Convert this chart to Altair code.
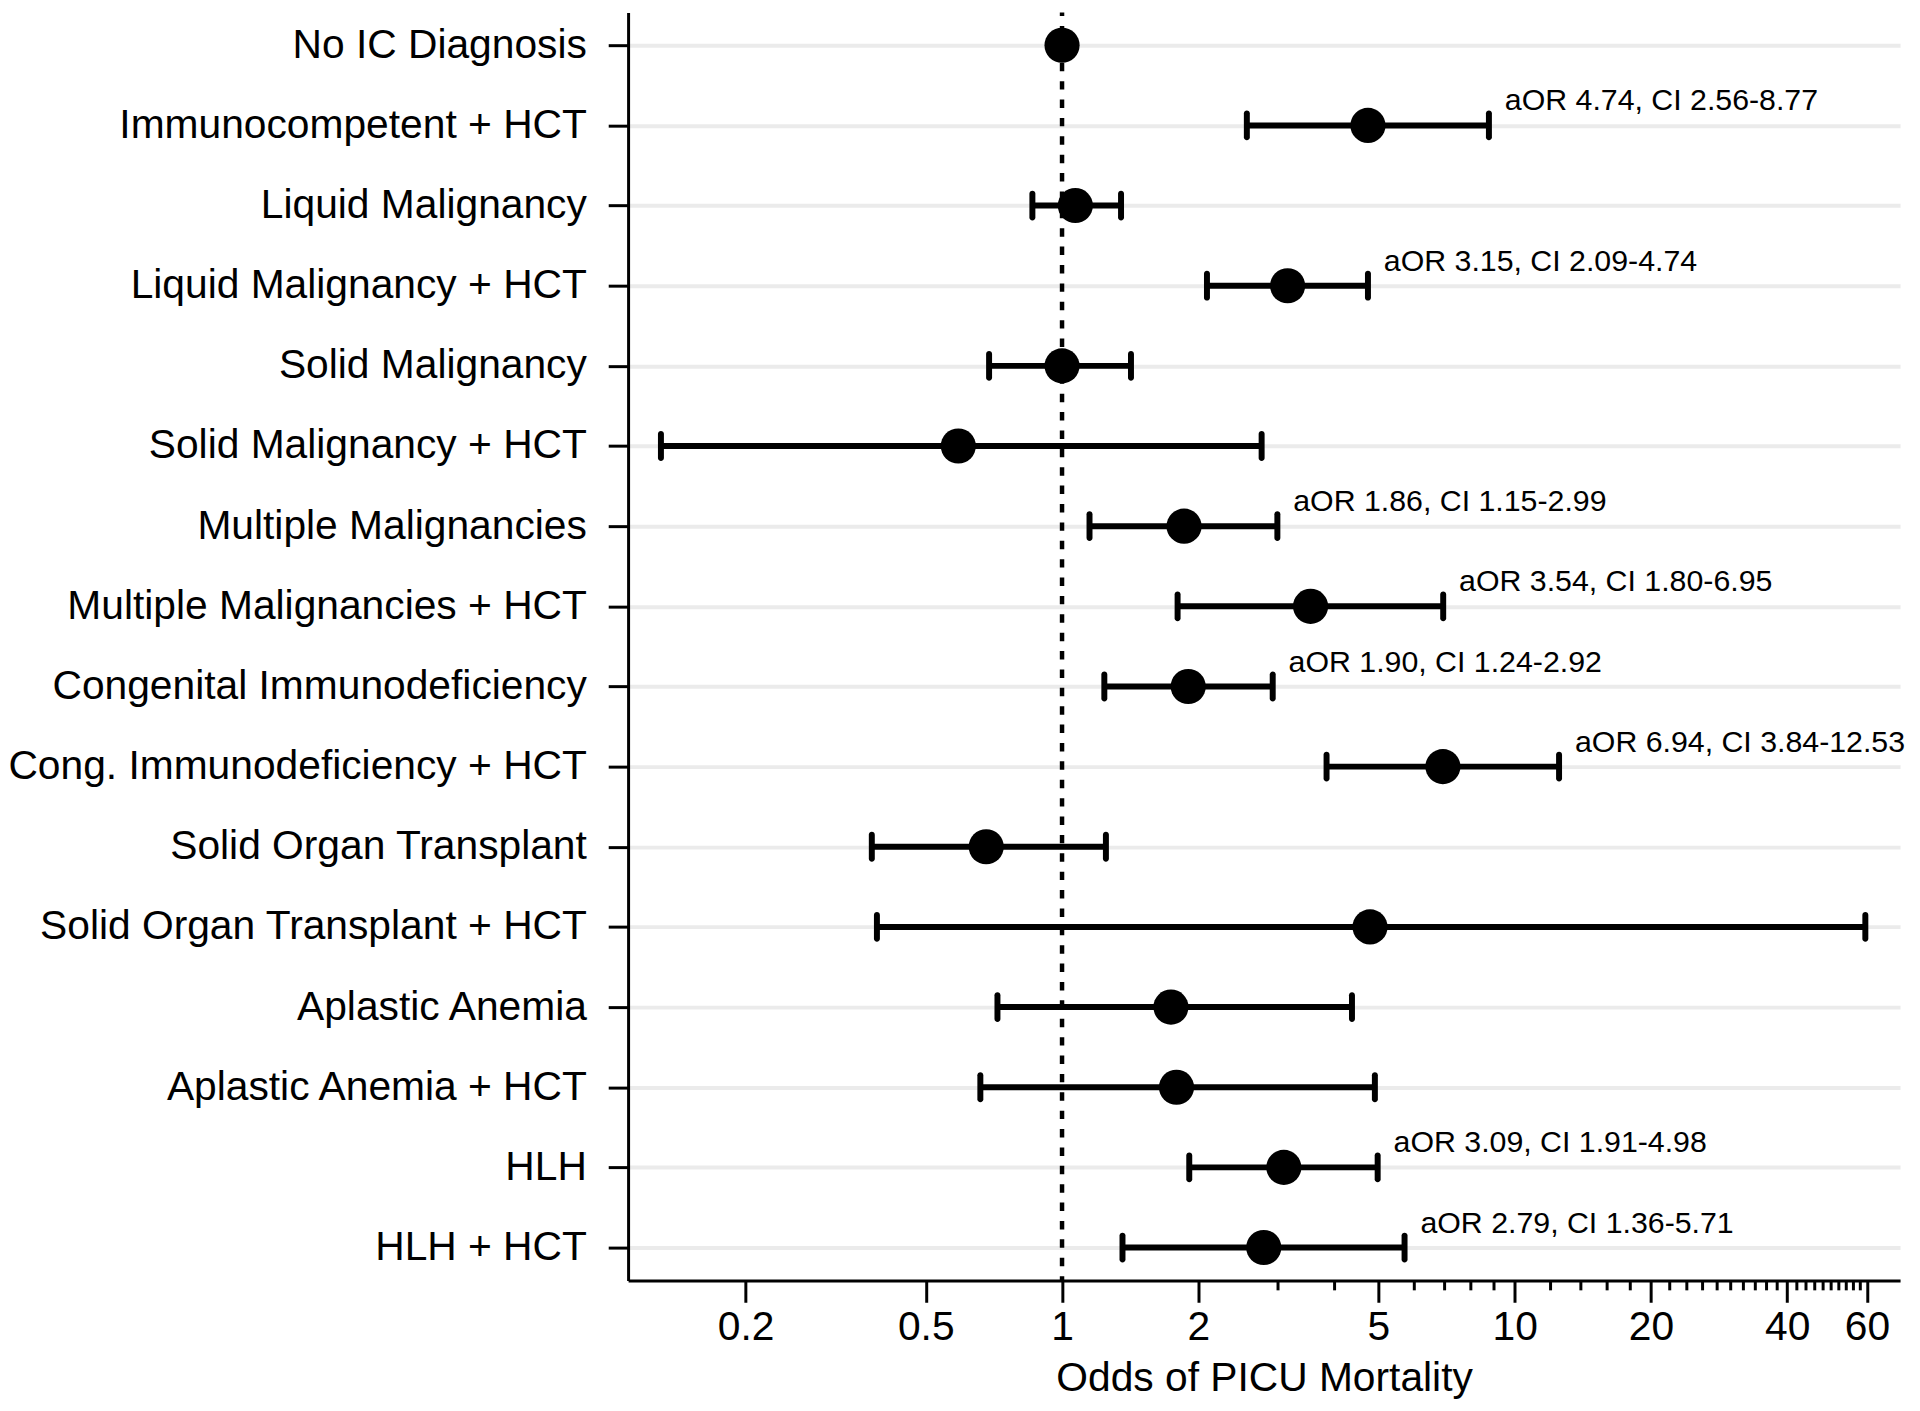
import altair as alt
import pandas as pd

# ---------------- data ----------------
groups = [
    "No IC Diagnosis",
    "Immunocompetent + HCT",
    "Liquid Malignancy",
    "Liquid Malignancy + HCT",
    "Solid Malignancy",
    "Solid Malignancy + HCT",
    "Multiple Malignancies",
    "Multiple Malignancies + HCT",
    "Congenital Immunodeficiency",
    "Cong. Immunodeficiency + HCT",
    "Solid Organ Transplant",
    "Solid Organ Transplant + HCT",
    "Aplastic Anemia",
    "Aplastic Anemia + HCT",
    "HLH",
    "HLH + HCT",
]
aor = [1.00, 4.74, 1.07, 3.15, 1.00, 0.59, 1.86, 3.54, 1.90, 6.94, 0.68, 4.79, 1.74, 1.79, 3.09, 2.79]
ci_lo = [None, 2.56, 0.86, 2.09, 0.69, 0.13, 1.15, 1.80, 1.24, 3.84, 0.38, 0.39, 0.72, 0.66, 1.91, 1.36]
ci_hi = [None, 8.77, 1.35, 4.74, 1.42, 2.76, 2.99, 6.95, 2.92, 12.53, 1.25, 59.5, 4.37, 4.91, 4.98, 5.71]
annotated = [False, True, False, True, False, False, True, True, True, True, False, False, False, False, True, True]

major_ticks = [0.2, 0.5, 1, 2, 5, 10, 20, 40, 60]
minor_ticks = [3, 4, 6, 7, 8, 9, 12, 14, 16, 18,
               22, 24, 26, 28, 30, 32, 34, 36, 38,
               42, 44, 46, 48, 50, 52, 54, 56, 58]
reference_value = [1]
x_domain = [0.11, 71]

# ---------------- tables ----------------
df = pd.DataFrame({"group": groups, "aor": aor, "lo": ci_lo, "hi": ci_hi, "ann": annotated})
df_ci = df.dropna(subset=["lo", "hi"]).copy()
df_txt = df[df["ann"]].copy()
df_txt["label"] = [f"aOR {a:.2f}, CI {l:.2f}-{h:.2f}" for a, l, h in zip(df_txt["aor"], df_txt["lo"], df_txt["hi"])]
df_ref = pd.DataFrame({"ref": reference_value})
df_minor = pd.DataFrame({"m": minor_ticks})

W, H = 1280, 1276
FONT = "Liberation Sans"

x_scale = alt.Scale(type="log", domain=x_domain, nice=False)
x_axis = alt.Axis(
    values=major_ticks, format="~g", title="Odds of PICU Mortality",
    grid=False, tickSize=22, tickWidth=3, tickColor="black",
    domainColor="black", domainWidth=3,
    labelFont=FONT, labelFontSize=41, labelColor="black", labelPadding=5,
    labelOverlap=False, labelFlush=False,
    titleFont=FONT, titleFontSize=41, titleFontWeight="normal", titleColor="black",
    titlePadding=12,
)
y_enc = alt.Y(
    "group:N", sort=groups, title=None,
    scale=alt.Scale(type="point", padding=0.41),
    axis=alt.Axis(
        grid=True, gridColor="#ebebeb", gridWidth=4,
        tickSize=20, tickWidth=3, tickColor="black",
        domainColor="black", domainWidth=3,
        labelFont=FONT, labelFontSize=41, labelColor="black", labelPadding=22,
        labelLimit=0,
    ),
)

def xq(field):
    return alt.X(field, scale=x_scale, axis=x_axis, title="Odds of PICU Mortality")

dashed = alt.Chart(df_ref).mark_rule(
    color="black", strokeWidth=4.5, strokeDash=[8.5, 10], strokeDashOffset=4.8
).encode(x=xq("ref:Q"), y=alt.value(0), y2=alt.value(H))

minor = alt.Chart(df_minor).mark_rule(color="black", strokeWidth=3).encode(
    x=xq("m:Q"), y=alt.value(H), y2=alt.value(H + 10)
)

bars = alt.Chart(df_ci).mark_rule(color="black", strokeWidth=6).encode(
    x=xq("lo:Q"), x2="hi:Q", y=y_enc
)

cap_lo = alt.Chart(df_ci).mark_tick(
    color="black", orient="vertical", size=30, thickness=6, cornerRadius=3, opacity=1
).encode(x=xq("lo:Q"), y=y_enc)

cap_hi = alt.Chart(df_ci).mark_tick(
    color="black", orient="vertical", size=30, thickness=6, cornerRadius=3, opacity=1
).encode(x=xq("hi:Q"), y=y_enc)

points = alt.Chart(df).mark_circle(color="black", size=1250, opacity=1).encode(
    x=xq("aor:Q"), y=y_enc
)

texts = alt.Chart(df_txt).mark_text(
    align="left", baseline="alphabetic", dx=16, dy=-15, fontSize=30.5, font=FONT, color="black"
).encode(x=xq("hi:Q"), y=y_enc, text="label:N")

chart = alt.layer(points, dashed, minor, bars, cap_lo, cap_hi, texts).properties(
    width=W, height=H,
    autosize=alt.AutoSizeParams(type="none"),
    padding={"left": 624, "top": 0, "right": 12, "bottom": 126},
    background="white",
).configure_view(stroke=None)

chart.save("out.html", embed_options={"renderer": "svg", "actions": False})
